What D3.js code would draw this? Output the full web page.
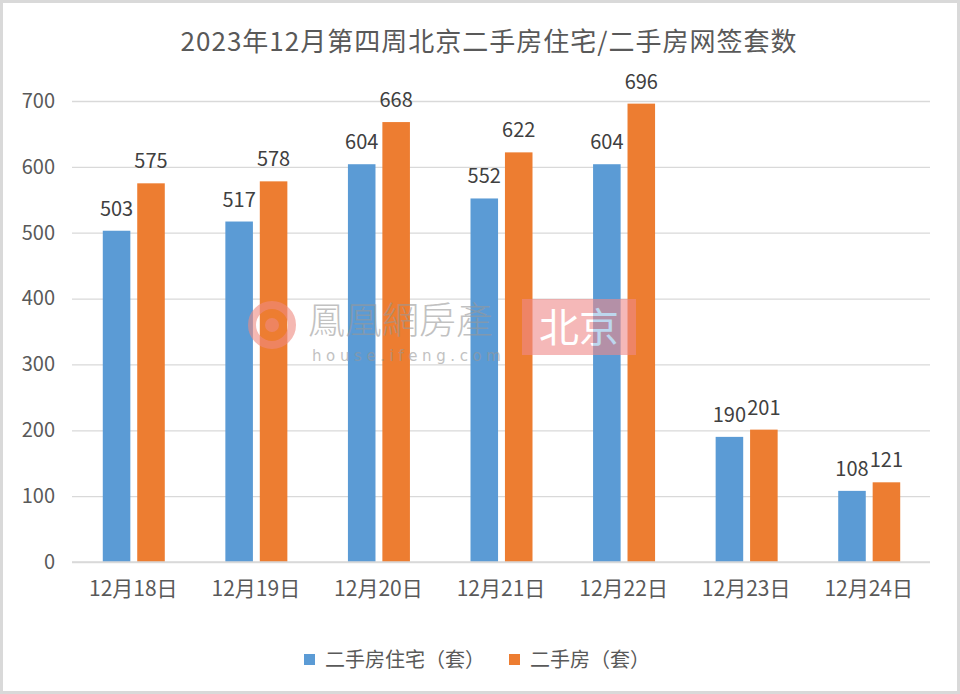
<!DOCTYPE html>
<html><head><meta charset="utf-8">
<script src="https://cdn.jsdelivr.net/npm/d3@7"></script>
<style>body{margin:0;background:#fff}svg{display:block}</style>
</head><body>
<svg id="c" width="960" height="694"></svg>
<script>
const categories = ["12月18日","12月19日","12月20日","12月21日","12月22日","12月23日","12月24日"];
const seriesNames = ["二手房住宅（套）","二手房（套）"];
const residential = [503,517,604,552,604,190,108];
const total = [575,578,668,622,696,201,121];
const yTicks = [0,100,200,300,400,500,600,700];
const title = "2023年12月第四周北京二手房住宅/二手房网签套数";
const colors = ["#5B9BD5","#ED7D31"];

const svg = d3.select("#c");
const W=960,H=694;
svg.append("rect").attr("x",1.5).attr("y",1.5).attr("width",W-3).attr("height",H-3)
  .attr("fill","#fff").attr("stroke","#d9d9d9").attr("stroke-width",3);

const m={left:72,right:930,top:101,bottom:562};
const x=d3.scaleBand().domain(categories).range([m.left,m.right]).paddingInner(0).paddingOuter(0);
const y=d3.scaleLinear().domain([0,700]).range([m.bottom,m.top]);
const x1=d3.scaleBand().domain([0,1]).range([0,62]).paddingInner(0.2);
const font="'Noto Sans CJK SC','Noto Sans',sans-serif";

// grid
const ya=d3.axisLeft(y).tickValues(yTicks).tickSize(-(m.right-m.left)).tickPadding(17);
const gy=svg.append("g").attr("transform",`translate(${m.left},0)`).call(ya);
gy.select(".domain").remove();
gy.selectAll(".tick line").attr("stroke","#d9d9d9").attr("stroke-width",1.3);
gy.selectAll(".tick text").attr("font-family",font).attr("font-size",20).attr("fill","#595959");

// bars
const data=categories.map((c,i)=>({c,v:[residential[i],total[i]]}));
const gx=svg.append("g");
data.forEach(d=>{
  const bx=x(d.c)+(x.bandwidth()-62)/2+0.5;
  d.v.forEach((v,j)=>{
    gx.append("rect").attr("x",bx+x1(j)).attr("y",y(v)).attr("width",x1.bandwidth()).attr("height",y(0)-y(v)).attr("fill",colors[j]);
    gx.append("text").attr("x",bx+x1(j)+x1.bandwidth()/2).attr("y",y(v)-15)
      .attr("text-anchor","middle").attr("font-family",font).attr("font-size",20).attr("fill","#404040").text(v);
  });
});
// baseline
svg.append("line").attr("x1",m.left).attr("x2",m.right).attr("y1",y(0)).attr("y2",y(0)).attr("stroke","#d9d9d9").attr("stroke-width",1.5);

// watermark (on top, translucent)
const wm=svg.append("g").attr("opacity",0.6);
wm.append("circle").attr("cx",272).attr("cy",325).attr("r",20).attr("fill","none").attr("stroke","#f08a80").attr("stroke-width",8);
wm.append("circle").attr("cx",272).attr("cy",325).attr("r",7).attr("fill","#f08a80");
wm.append("text").attr("x",308).attr("y",334).attr("font-family","'Noto Sans CJK TC',sans-serif").attr("font-size",37).attr("font-weight",300).attr("fill","#999").text("鳳凰網房產");
wm.append("text").attr("x",312).attr("y",361).attr("font-family","'DejaVu Sans',sans-serif").attr("font-size",15).attr("letter-spacing",4.6).attr("fill","#999").text("house.ifeng.com");
wm.append("rect").attr("x",522).attr("y",299).attr("width",114).attr("height",56).attr("fill","#f08a8a");
wm.append("text").attr("x",579).attr("y",342).attr("text-anchor","middle").attr("font-family","'Noto Sans CJK SC',sans-serif").attr("font-size",40).attr("fill","#fff").text("北京");

// x axis
const xa=d3.axisBottom(x).tickSize(0).tickPadding(19);
const gxa=svg.append("g").attr("transform",`translate(0,${m.bottom})`).call(xa);
gxa.select(".domain").remove();
gxa.selectAll(".tick text").attr("font-family",font).attr("font-size",21).attr("fill","#595959");

// title
svg.append("text").attr("x",489).attr("y",51).attr("text-anchor","middle").attr("font-family",font)
  .attr("font-size",26).attr("letter-spacing",1).attr("fill","#595959").text(title);

// legend
const lg=[{x:304,t:seriesNames[0]},{x:509,t:seriesNames[1]}];
lg.forEach((l,i)=>{
  svg.append("rect").attr("x",l.x).attr("y",654).attr("width",11).attr("height",11).attr("fill",colors[i]);
  svg.append("text").attr("x",l.x+21).attr("y",667).attr("font-family",font).attr("font-size",20).attr("fill","#595959").text(l.t);
});
</script>
</body></html>
